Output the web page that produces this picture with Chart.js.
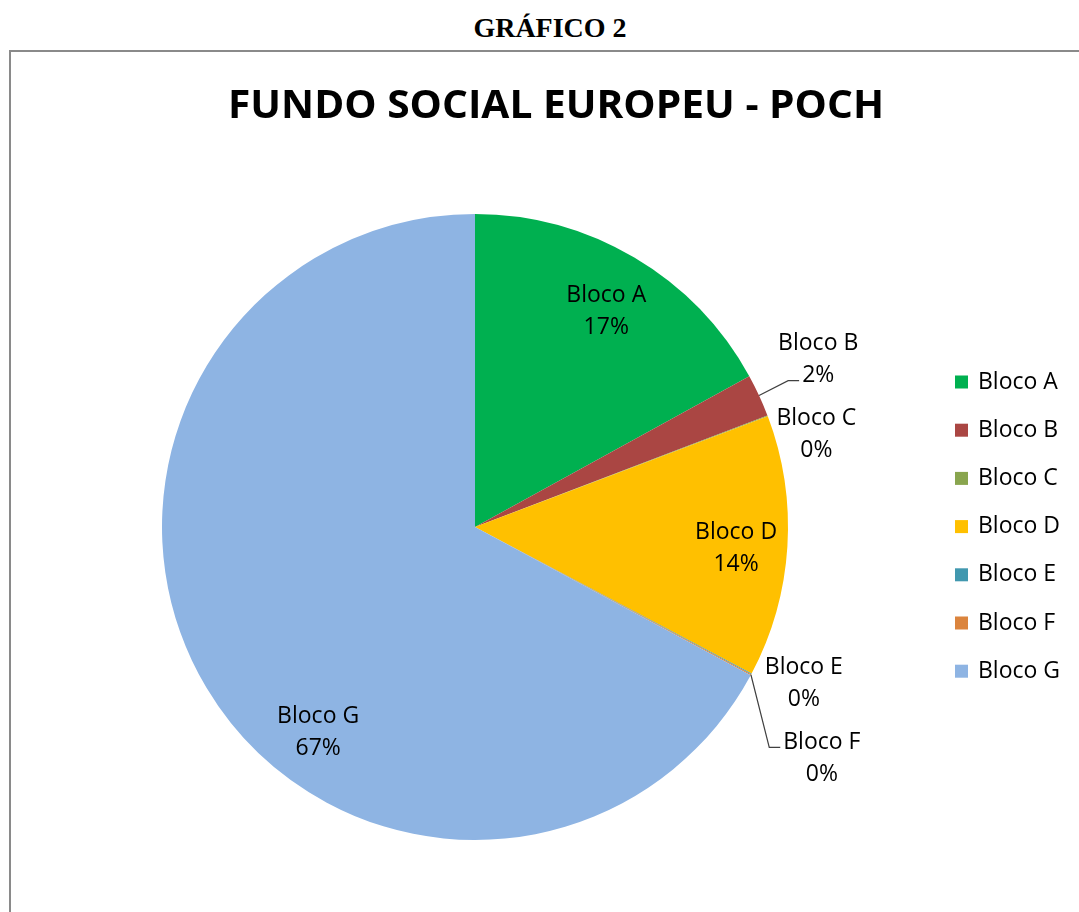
<!DOCTYPE html>
<html>
<head>
<meta charset="utf-8">
<script src="https://cdn.jsdelivr.net/npm/chart.js@4.4.1/dist/chart.umd.min.js"></script>
<style>
    body { margin: 0; background: #fff; overflow: hidden; }
    #heading {
        position: absolute; left: 0; width: 1100px; top: 12px;
        text-align: center; font: bold 28px "Liberation Serif", serif; color: #000;
    }
    #box {
        position: absolute; left: 9px; top: 50px; width: 1200px; height: 1000px;
        border: 2px solid #8a8a8a; box-sizing: border-box;
    }
    #chart { position: absolute; left: 0; top: 0; }
</style>
</head>
<body>
<div id="heading">GRÁFICO 2</div>
<div id="box"></div>
<canvas id="chart" width="1079" height="912"></canvas>
<script>
// Data (share of funds, %)
const categories = ['Bloco A', 'Bloco B', 'Bloco C', 'Bloco D', 'Bloco E', 'Bloco F', 'Bloco G'];
const shares = [17.0, 2.2, 0.05, 13.5, 0.05, 0.05, 67.15];
const colors = ['#00B050', '#AA4643', '#89A54E', '#FFC000', '#4198AF', '#DB843D', '#8EB4E3'];

const chartTitle = 'FUNDO SOCIAL EUROPEU - POCH';

// label placement: [angle from top in degrees, fraction of radius], leader line attach row (-1 = none)
const labelPlacement = [
    [31.4, 0.805, -1],
    [64.0, 1.22, 1],
    [74.8, 1.13, -1],
    [94.8, 0.837, -1],
    [115.4, 1.163, -1],
    [123.7, 1.332, 0],
    [217.3, 0.827, -1]
];

const labelFont = '23px "Open Sans"';

const pieLabels = {
    id: 'pieLabels',
    afterDraw(chart) {
        const ctx = chart.ctx;
        const meta = chart.getDatasetMeta(0);
        const total = shares.reduce((a, b) => a + b, 0);
        ctx.save();

        // title, squeezed a bit to look like Calibri
        ctx.font = 'bold 40px "Open Sans"';
        ctx.fillStyle = '#000';
        ctx.textBaseline = 'alphabetic';
        const tw = ctx.measureText(chartTitle).width;
        const sx = 656 / tw;
        ctx.save();
        ctx.translate(556, 118);
        ctx.scale(sx, 1);
        ctx.textAlign = 'center';
        ctx.fillText(chartTitle, 0, 0);
        ctx.restore();

        // data labels
        ctx.font = labelFont;
        ctx.textAlign = 'center';
        ctx.textBaseline = 'middle';
        meta.data.forEach((arc, i) => {
            const [deg, rf, attach] = labelPlacement[i];
            const a = (deg - 90) * Math.PI / 180;
            const R = arc.outerRadius;
            const cx = arc.x + Math.cos(a) * R * rf;
            const cy = arc.y + Math.sin(a) * R * rf;
            const lines = [categories[i], Math.round(shares[i] * 100 / total) + '%'];
            const ys = [cy - 16, cy + 16];
            ctx.fillStyle = '#000';
            lines.forEach((t, k) => ctx.fillText(t, cx, ys[k]));

            if (attach >= 0) {
                const mid = (arc.startAngle + arc.endAngle) / 2;
                const sxp = arc.x + Math.cos(mid) * R;
                const syp = arc.y + Math.sin(mid) * R;
                const w = ctx.measureText(lines[attach]).width;
                const ex = cx - w / 2 - 3;
                const ey = ys[attach] + 5;
                ctx.strokeStyle = '#404040';
                ctx.lineWidth = 1.2;
                ctx.beginPath();
                ctx.moveTo(sxp, syp);
                ctx.lineTo(ex - 11, ey);
                ctx.lineTo(ex, ey);
                ctx.stroke();
            }
        });

        // legend
        ctx.textAlign = 'left';
        categories.forEach((c, i) => {
            const y = 382 + i * 48.2;
            ctx.fillStyle = colors[i];
            ctx.fillRect(955, y - 6.5, 13, 13);
            ctx.fillStyle = '#000';
            ctx.fillText(c, 978, y);
        });
        ctx.restore();
    }
};

new Chart(document.getElementById('chart'), {
    type: 'pie',
    data: {
        labels: categories,
        datasets: [{
            data: shares,
            backgroundColor: colors,
            borderWidth: 0
        }]
    },
    options: {
        responsive: false,
        animation: false,
        layout: { padding: { left: 162, right: 291, top: 214, bottom: 72 } },
        plugins: {
            legend: { display: false },
            tooltip: { enabled: false }
        }
    },
    plugins: [pieLabels]
});
</script>
</body>
</html>
